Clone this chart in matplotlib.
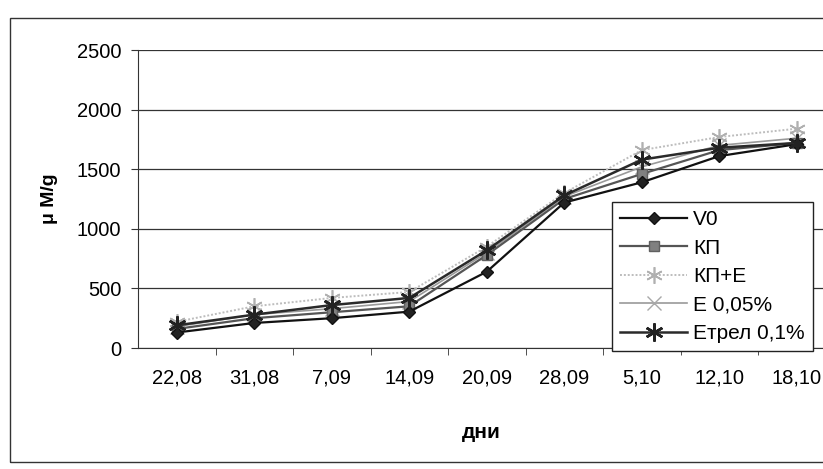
import matplotlib.pyplot as plt
from matplotlib.patches import Rectangle

plt.rcParams['font.family'] = ['Liberation Sans', 'DejaVu Sans']

# dates of sampling
days = ["22,08", "31,08", "7,09", "14,09", "20,09", "28,09", "5,10", "12,10", "18,10"]

v0 = [130, 210, 250, 305, 640, 1220, 1390, 1610, 1710]
kp = [160, 250, 300, 350, 780, 1250, 1460, 1660, 1720]
kp_e = [220, 350, 420, 470, 850, 1300, 1660, 1770, 1840]
e005 = [180, 280, 330, 390, 800, 1270, 1520, 1700, 1760]
etrel = [190, 280, 360, 420, 820, 1280, 1580, 1680, 1720]

labels = ["V0", "КП", "КП+Е", "Е 0,05%", "Етрел 0,1%"]

W, H = 823, 469
fig = plt.figure(figsize=(W / 100, H / 100), dpi=100)

# outer frame of the chart
fig.patches.append(Rectangle((10 / W, 1 - 462 / H), 830 / W, 444 / H,
                             transform=fig.transFigure, fill=False,
                             edgecolor="#333333", lw=1.0))

ax = fig.add_axes([138 / W, 1 - 348 / H, 697.5 / W, 298 / H])
x = range(len(days))

ax.plot(x, v0, color="#111111", lw=1.6, marker="D", ms=6,
        mfc="#222222", mec="#111111", label=labels[0], zorder=5)
ax.plot(x, kp, color="#555555", lw=1.6, marker="s", ms=7,
        mfc="#808080", mec="#606060", label=labels[1], zorder=4)
ax.plot(x, kp_e, color="#bdbdbd", lw=1.4, ls=(0, (1, 1)), marker=(6, 2, 0), ms=12,
        mec="#b0b0b0", mew=1.2, label=labels[2], zorder=3)
ax.plot(x, e005, color="#9a9a9a", lw=1.2, marker="x", ms=10,
        mec="#a8a8a8", mew=1.0, label=labels[3], zorder=3)
ax.plot(x, etrel, color="#2a2a2a", lw=1.8, marker=(6, 2, 0), ms=13,
        mec="#222222", mew=1.8, label=labels[4], zorder=6)

ax.set_xlim(-0.5, len(days) - 0.5)
ax.set_ylim(0, 2500)
ax.set_yticks(range(0, 2501, 500))
ax.set_xticks(list(x))
ax.set_xticklabels(days)
ax.set_xticks([i + 0.5 for i in range(len(days))], minor=True)
ax.tick_params(axis="x", which="major", length=0, pad=15, labelsize=14.5)
ax.tick_params(axis="x", which="minor", length=5, color="#333333")
ax.tick_params(axis="y", length=5, pad=7, labelsize=14.5, color="#333333")

ax.grid(axis="y", color="#333333", lw=0.9)
ax.set_axisbelow(True)
for side in ("top", "right"):
    ax.spines[side].set_visible(False)
ax.spines["left"].set_color("#333333")
ax.spines["bottom"].set_color("#333333")

ax.set_xlabel("дни", fontsize=15, fontweight="bold")
ax.xaxis.set_label_coords((481 - 138) / 697.5, -(432 - 348) / 298)
ax.xaxis.label.set_va("center")
ax.set_ylabel("μ M/g", fontsize=14, fontweight="bold")
ax.yaxis.set_label_coords(-(138 - 49) / 697.5, 0.5)
ax.yaxis.label.set_va("center")

leg = ax.legend(loc="upper left", bbox_to_anchor=(612 / W, 1 - 202 / H),
                bbox_transform=fig.transFigure, fontsize=15, frameon=True,
                fancybox=False, framealpha=1, edgecolor="#222222",
                handlelength=3.2, handletextpad=0.3, labelspacing=0.45,
                borderpad=0.4, borderaxespad=0)
leg.get_frame().set_linewidth(1.0)

fig.savefig("out.png", dpi=100)
